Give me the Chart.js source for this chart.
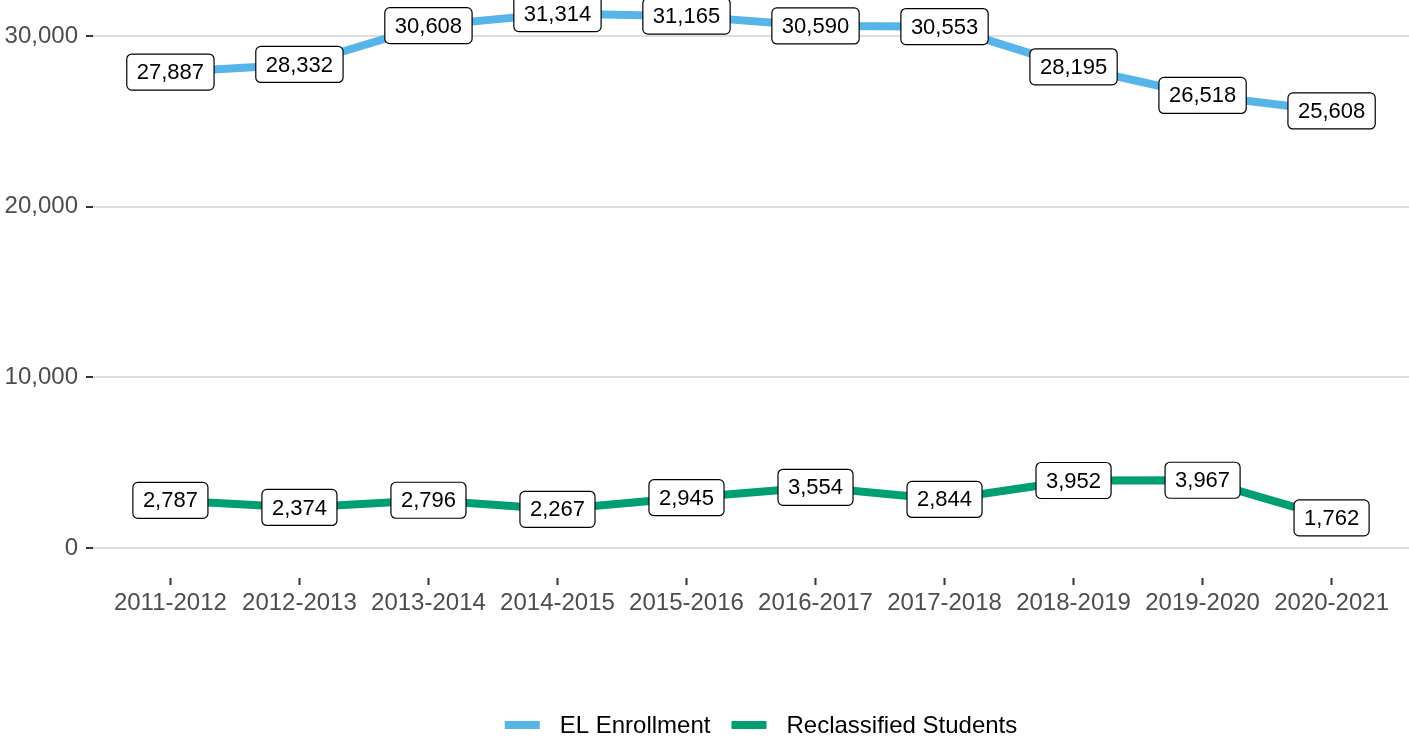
<!DOCTYPE html>
<html>
<head>
<meta charset="utf-8">
<script src="https://cdn.jsdelivr.net/npm/chart.js@4.4.1/dist/chart.umd.min.js"></script>
<style>
  html, body { margin: 0; padding: 0; background: #ffffff; }
  #wrap { width: 1409px; height: 740px; position: relative; }
</style>
</head>
<body>
<div id="wrap"><canvas id="chart"></canvas></div>
<script>
// ---- data ----
const years = ['2011-2012', '2012-2013', '2013-2014', '2014-2015', '2015-2016',
               '2016-2017', '2017-2018', '2018-2019', '2019-2020', '2020-2021'];
const elEnrollment = [27887, 28332, 30608, 31314, 31165, 30590, 30553, 28195, 26518, 25608];
const reclassified = [2787, 2374, 2796, 2267, 2945, 3554, 2844, 3952, 3967, 1762];
const yTicks = [0, 10000, 20000, 30000];

const FONT = '"Liberation Sans", Arial, Helvetica, sans-serif';
const fmt = v => v.toLocaleString('en-US');

// boxed value labels (geom_label style)
const valueLabels = {
    id: 'valueLabels',
    afterDatasetsDraw(chart) {
        const ctx = chart.ctx;
        ctx.save();
        ctx.font = '22px ' + FONT;
        ctx.textAlign = 'center';
        ctx.textBaseline = 'middle';
        chart.data.datasets.forEach((ds, i) => {
            chart.getDatasetMeta(i).data.forEach((pt, j) => {
                const txt = fmt(ds.data[j].y);
                const w = ctx.measureText(txt).width + 20;
                const h = 36;
                ctx.beginPath();
                ctx.roundRect(pt.x - w / 2, pt.y - h / 2, w, h, 5);
                ctx.fillStyle = '#ffffff';
                ctx.fill();
                ctx.lineWidth = 1.2;
                ctx.strokeStyle = '#000000';
                ctx.stroke();
                ctx.fillStyle = '#000000';
                ctx.fillText(txt, pt.x, pt.y + 1);
            });
        });
        ctx.restore();
    }
};

// bottom legend drawn by hand
const bottomLegend = {
    id: 'bottomLegend',
    afterDraw(chart) {
        const ctx = chart.ctx;
        const y = 725;
        const swatch = 35, gapText = 20, gapItem = 21;
        ctx.save();
        ctx.font = '24px ' + FONT;
        ctx.textBaseline = 'middle';
        const items = chart.data.datasets.map(ds => ({ label: ds.label, color: ds.borderColor, w: ctx.measureText(ds.label).width }));
        const total = items.reduce((s, it) => s + swatch + gapText + it.w, 0) + gapItem * (items.length - 1);
        let x = 761 - total / 2;
        items.forEach(it => {
            ctx.fillStyle = it.color;
            ctx.fillRect(x, y - 4, swatch, 8);
            x += swatch + gapText;
            ctx.fillStyle = '#000000';
            ctx.fillText(it.label, x, y + 1);
            x += it.w + gapItem;
        });
        ctx.restore();
    }
};

const toPoints = arr => arr.map((v, i) => ({ x: i, y: v }));

new Chart(document.getElementById('chart'), {
    type: 'line',
    data: {
        datasets: [
            {
                label: 'EL Enrollment',
                data: toPoints(elEnrollment),
                borderColor: '#56B4E9',
                backgroundColor: '#56B4E9',
                borderWidth: 8,
                pointRadius: 0,
                tension: 0,
                clip: false
            },
            {
                label: 'Reclassified Students',
                data: toPoints(reclassified),
                borderColor: '#009E73',
                backgroundColor: '#009E73',
                borderWidth: 8,
                pointRadius: 0,
                tension: 0,
                clip: false
            }
        ]
    },
    options: {
        responsive: true,
        maintainAspectRatio: false,
        animation: false,
        layout: { padding: 0 },
        plugins: {
            legend: { display: false },
            tooltip: { enabled: false }
        },
        scales: {
            x: {
                type: 'linear',
                min: -0.6,
                max: 9.6,
                afterBuildTicks: s => { s.ticks = years.map((_, i) => ({ value: i })); },
                afterFit: s => { s.height = 162; s.paddingLeft = 0; s.paddingRight = 0; },
                border: { display: false },
                grid: {
                    drawOnChartArea: false,
                    drawTicks: true,
                    tickLength: 7,
                    tickColor: '#333333',
                    tickWidth: 2
                },
                ticks: {
                    padding: 4,
                    maxRotation: 0,
                    autoSkip: false,
                    color: '#4D4D4D',
                    font: { family: FONT, size: 24 },
                    callback: v => years[v] || ''
                }
            },
            y: {
                min: -1760,
                max: 32110,
                afterBuildTicks: s => { s.ticks = yTicks.map(v => ({ value: v })); },
                afterFit: s => { s.width = 93; s.paddingTop = 0; s.paddingBottom = 0; },
                border: { display: false },
                grid: {
                    color: '#DEDEDE',
                    lineWidth: 2,
                    drawTicks: true,
                    tickLength: 7,
                    tickColor: '#333333',
                    tickWidth: 2
                },
                ticks: {
                    padding: 8,
                    color: '#4D4D4D',
                    font: { family: FONT, size: 24 },
                    callback: v => fmt(v)
                }
            }
        }
    },
    plugins: [valueLabels, bottomLegend]
});
</script>
</body>
</html>
